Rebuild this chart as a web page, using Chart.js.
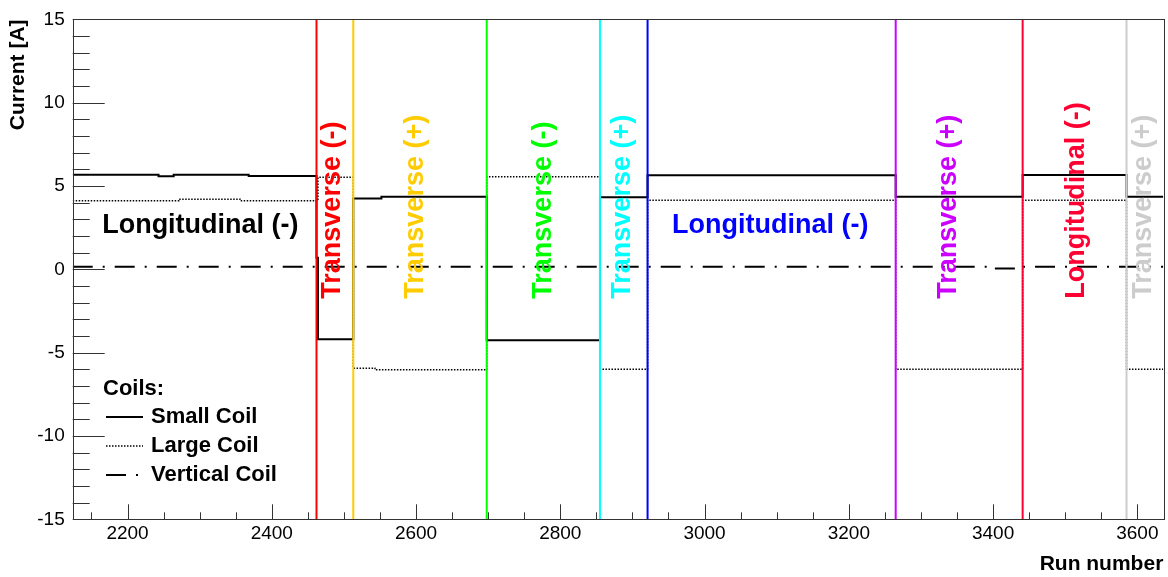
<!DOCTYPE html>
<html>
<head>
<meta charset="utf-8">
<script src="https://cdn.jsdelivr.net/npm/chart.js@4"></script>
<style>
  html, body { margin: 0; padding: 0; background: #fff; }
</style>
</head>
<body>
<canvas id="Coil_Current_Canvas" width="1168" height="577"></canvas>
<script>
// Coil currents: each value holds from its run number until the next one
const smallRuns    = [2124, 2243, 2264, 2368, 2462, 2464, 2513, 2552, 2698, 2855, 2921, 3265, 3441, 3585, 3636];
const smallCurrent = [5.68, 5.58, 5.68, 5.60, 0.70, -4.20, 4.25, 4.35, -4.25, 4.33, 5.65, 4.35, 5.66, 4.35, 4.35];

const largeRuns    = [2124, 2271, 2356, 2464, 2513, 2543, 2698, 2855, 2921, 3265, 3441, 3585, 3636];
const largeCurrent = [4.12, 4.21, 4.12, 5.52, -5.93, -6.03, 5.55, -6.0, 4.15, -6.0, 4.15, -6.0, -6.0];

const vertRuns    = [2124, 3396, 3441, 3636];
const vertCurrent = [0.16, 0.05, 0.16, 0.16];

// Runs where the field configuration was switched
const switchRuns   = [2462, 2513, 2698, 2855, 2921, 3265, 3441, 3585];
const switchColors = ['#ff0000', '#ffcc00', '#00ff00', '#00ffff', '#0000ff', '#cc00ff', '#ff0033', '#cccccc'];

// Configuration labels (run / current where the label sits)
const labelText     = ['Longitudinal (-)', 'Transverse (-)', 'Transverse (+)', 'Transverse (-)', 'Transverse (+)',
                       'Longitudinal (-)', 'Transverse (+)', 'Longitudinal (-)', 'Transverse (+)'];
const labelRun      = [2301, 2484, 2599, 2777, 2886, 3091, 3338, 3516, 3608];
const labelCurrent  = [2.62, -1.76, -1.76, -1.76, -1.76, 2.62, -1.76, -1.76, -1.76];
const labelVertical = [false, true, true, true, true, false, true, true, true];
const labelColors   = ['#000000', '#ff0000', '#ffcc00', '#00ff00', '#00ffff', '#0000ff', '#cc00ff', '#ff0033', '#cccccc'];

// Axis ticks (major ticks get a label)
const xMajorTicks = [2200, 2400, 2600, 2800, 3000, 3200, 3400, 3600];
const xMinorStep  = 50;
const yMajorTicks = [-15, -10, -5, 0, 5, 10, 15];
const yMinorStep  = 1;

const legendTitle = 'Coils:';

const FONT = '"Liberation Sans", Arial, Helvetica, sans-serif';
Chart.defaults.font.family = FONT;
Chart.defaults.color = '#000';

function toPoints(runs, values) {
    return runs.map((r, i) => ({ x: r, y: values[i] }));
}

// Fill in minor ticks between the scale limits
function buildTicks(scale, step) {
    const ticks = [];
    const first = Math.ceil(scale.min / step) * step;
    for (let v = first; v <= scale.max; v += step) {
        ticks.push({ value: v });
    }
    scale.ticks = ticks;
}

// Draws the switch lines, labels, legend, frame and inside ticks (ROOT look)
const rootStylePlugin = {
    id: 'rootStyle',
    afterDatasetsDraw(chart) {
        const { ctx, chartArea: a, scales: { x, y } } = chart;
        ctx.save();

        // vertical switch lines
        ctx.lineWidth = 2;
        switchRuns.forEach((run, i) => {
            const px = x.getPixelForValue(run);
            ctx.strokeStyle = switchColors[i];
            ctx.beginPath();
            ctx.moveTo(px, a.top);
            ctx.lineTo(px, a.bottom);
            ctx.stroke();
        });

        // configuration labels
        ctx.font = 'bold 27px ' + FONT;
        ctx.textBaseline = 'middle';
        labelText.forEach((txt, i) => {
            const px = x.getPixelForValue(labelRun[i]);
            const py = y.getPixelForValue(labelCurrent[i]);
            ctx.fillStyle = labelColors[i];
            ctx.save();
            ctx.translate(px, py);
            if (labelVertical[i]) {
                ctx.rotate(-Math.PI / 2);
                ctx.textAlign = 'left';
            } else {
                ctx.textAlign = 'center';
            }
            ctx.fillText(txt, 0, 0);
            ctx.restore();
        });

        // legend
        ctx.font = 'bold 22px ' + FONT;
        ctx.fillStyle = '#000';
        ctx.textAlign = 'left';
        ctx.fillText(legendTitle, 103, 389);
        chart.data.datasets.forEach((ds, i) => {
            const ly = 417 + i * 29;
            ctx.beginPath();
            ctx.setLineDash(ds.borderDash || []);
            ctx.lineWidth = ds.borderWidth;
            ctx.strokeStyle = ds.borderColor;
            ctx.moveTo(106, ly);
            ctx.lineTo(143, ly);
            ctx.stroke();
            ctx.fillText(ds.label, 151, ly);
        });
        ctx.setLineDash([]);

        // ticks pointing into the frame
        ctx.strokeStyle = '#333';
        ctx.lineWidth = 1;
        ctx.beginPath();
        y.ticks.forEach(t => {
            const py = Math.round(y.getPixelForValue(t.value)) + 0.5;
            const len = yMajorTicks.includes(t.value) ? 32 : 17;
            ctx.moveTo(a.left, py);
            ctx.lineTo(a.left + len, py);
        });
        x.ticks.forEach(t => {
            const px = Math.round(x.getPixelForValue(t.value)) + 0.5;
            const len = xMajorTicks.includes(t.value) ? 15 : 7;
            ctx.moveTo(px, a.bottom);
            ctx.lineTo(px, a.bottom - len);
        });
        ctx.stroke();

        // frame
        ctx.strokeRect(Math.round(a.left) + 0.5, Math.round(a.top) + 0.5,
                       Math.round(a.right - a.left), Math.round(a.bottom - a.top));
        ctx.restore();
    }
};

const canvas = document.getElementById('Coil_Current_Canvas');

const chart = new Chart(canvas, {
    type: 'line',
    data: {
        datasets: [{
            label: 'Small Coil',
            data: toPoints(smallRuns, smallCurrent),
            borderColor: '#000',
            borderWidth: 2,
            stepped: true,
            pointRadius: 0,
            fill: false,
        }, {
            label: 'Large Coil',
            data: toPoints(largeRuns, largeCurrent),
            borderColor: '#000',
            borderWidth: 1.5,
            borderDash: [1.5, 1.5],
            stepped: true,
            pointRadius: 0,
            fill: false,
        }, {
            label: 'Vertical Coil',
            data: toPoints(vertRuns, vertCurrent),
            borderColor: '#000',
            borderWidth: 2,
            borderDash: [20, 10, 2, 10],
            stepped: true,
            pointRadius: 0,
            fill: false,
        }]
    },
    options: {
        responsive: false,
        animation: false,
        layout: { padding: { top: 15.7, right: 4.7, left: 0, bottom: 0 } },
        plugins: {
            legend: { display: false },
            tooltip: { enabled: false }
        },
        scales: {
            x: {
                type: 'linear',
                min: 2124,
                max: 3636,
                offset: false,
                grid: { display: false, drawTicks: false },
                border: { display: false },
                afterBuildTicks: s => buildTicks(s, xMinorStep),
                ticks: {
                    autoSkip: false,
                    maxRotation: 0,
                    padding: 3,
                    font: { size: 19 },
                    color: '#000',
                    callback: v => xMajorTicks.includes(v) ? String(v) : ''
                },
                title: {
                    display: true,
                    text: 'Run number',
                    align: 'end',
                    font: { size: 21, weight: 'bold' },
                    padding: { top: 0, bottom: 0.4 }
                },
                afterFit: s => { s.height = 57.7; }
            },
            y: {
                min: -15,
                max: 15,
                grid: { display: false, drawTicks: false },
                border: { display: false },
                afterBuildTicks: s => buildTicks(s, yMinorStep),
                ticks: {
                    autoSkip: false,
                    padding: 8,
                    font: { size: 19 },
                    color: '#000',
                    callback: v => yMajorTicks.includes(v) ? String(v) : ''
                },
                title: {
                    display: true,
                    text: 'Current [A]',
                    align: 'end',
                    font: { size: 21, weight: 'bold' },
                    padding: { top: 5.4, bottom: 0 }
                },
                afterFit: s => { s.width = 72.7; }
            }
        }
    },
    plugins: [rootStylePlugin]
});
</script>
</body>
</html>
